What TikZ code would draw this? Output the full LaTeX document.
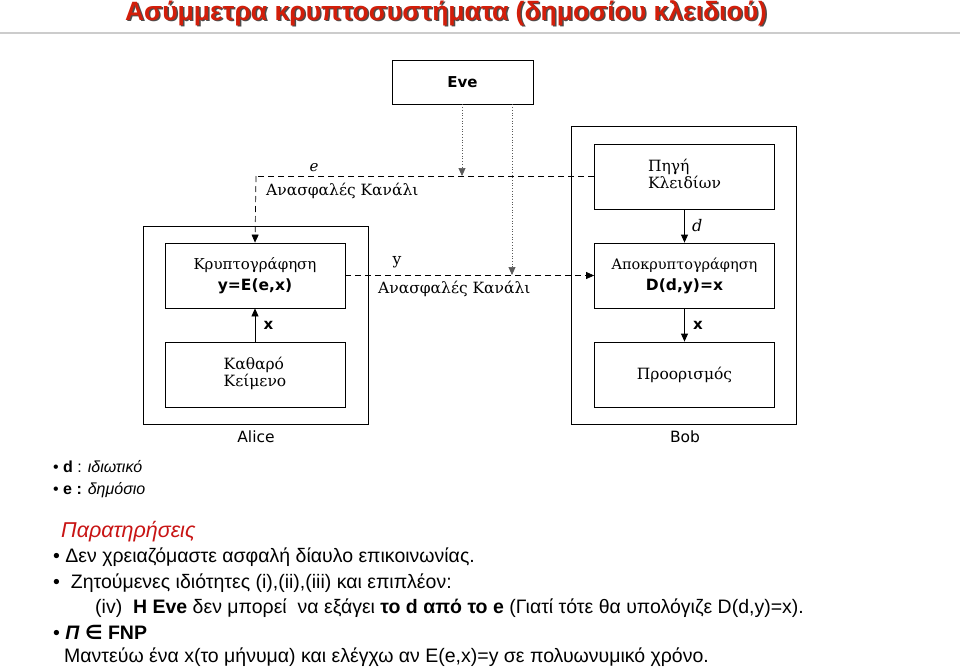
\documentclass[tikz,border=0pt]{standalone}
\usepackage{fontspec}
\setmainfont{Liberation Sans}
\newfontfamily\dser{DejaVu Serif}
\newfontfamily\dsans{DejaVu Sans}
\usetikzlibrary{arrows.meta}
\definecolor{titred}{RGB}{210,30,10}
\definecolor{obsred}{RGB}{200,20,20}
\begin{document}
\begin{tikzpicture}[x=1pt,y=-1pt,
  blk/.style={draw,line width=0.8pt,minimum width=180,minimum height=65,inner sep=0,align=center},
  outer/.style={draw,line width=0.8pt},
  dsh/.style={dashed,dash pattern=on 6pt off 4pt,line width=0.7pt},
  dot/.style={dotted,line width=0.7pt,gray!70!black},
  arr/.style={-{Triangle[length=8pt,width=7pt]}},
  lab/.style={font=\dser\fontsize{15.5}{16}\selectfont,inner sep=1pt},
  txt/.style={anchor=west,inner sep=0,font=\fontsize{19.5}{21}\selectfont}]
\useasboundingbox (0,0) rectangle (960,667);
% title
\node (tshadow) [font=\bfseries\fontsize{26.5}{28}\selectfont,text=black!70] at (447.5,14.5) {Ασύμμετρα κρυπτοσυστήματα  (δημοσίου κλειδιού)};
\node (title) [font=\bfseries\fontsize{26.5}{28}\selectfont,text=titred] at (446,13) {Ασύμμετρα κρυπτοσυστήματα  (δημοσίου κλειδιού)};
\draw[gray!40,line width=1.2pt] (0,33) -- (960,33);
% boxes
\node (eve) [blk,minimum width=141,minimum height=44,font=\dsans\bfseries\fontsize{15}{16}\selectfont] at (462.5,82) {Eve};
\node (alice) [outer,minimum width=225,minimum height=198,inner sep=0] at (255.5,325) {};
\node (bob) [outer,minimum width=225,minimum height=298,inner sep=0] at (683.5,275) {};
\node (enc) [blk] at (255,275.5) {\dser\fontsize{15}{16}\selectfont Κρυπτογράφηση\\[5pt]\dsans\bfseries\fontsize{15.5}{16}\selectfont y=E(e,x)};
\node (pt) [blk] at (255,374.5) {\dser\fontsize{15.5}{17}\selectfont\begin{tabular}{@{}l@{}}Καθαρό\\Κείμενο\end{tabular}};
\node (src) [blk] at (684.5,176.5) {\dser\fontsize{15.5}{17}\selectfont\begin{tabular}{@{}l@{}}Πηγή\\Κλειδίων\end{tabular}};
\node (dec) [blk] at (684.5,275.5) {\dser\fontsize{14.5}{16}\selectfont Αποκρυπτογράφηση\\[5pt]\dsans\bfseries\fontsize{15.5}{16}\selectfont D(d,y)=x};
\node (dst) [blk] at (684.5,374.5) {\dser\fontsize{15.5}{16}\selectfont Προορισμός};
\node (alab) [font=\dsans\fontsize{15.5}{16}\selectfont] at (256,437) {Alice};
\node (blab) [font=\dsans\fontsize{15.5}{16}\selectfont] at (685,437) {Bob};
% channels
\coordinate (ec) at (256,176);
\draw[dsh] (src.west |- ec) -- (ec);
\draw[dsh,arr] (ec) -- (enc.north);
\node[lab,font=\dser\itshape\fontsize{15}{16}\selectfont] at (314,168) {e};
\node[lab,anchor=west] at (265,191) {Ανασφαλές Κανάλι};
\draw[dsh,arr] (enc.east) -- (dec.west);
\node[lab] at (397,262) {y};
\node[lab,anchor=west] at (377,289) {Ανασφαλές Κανάλι};
% Eve taps
\coordinate (t1) at (462,176);
\coordinate (t2) at (512,275);
\draw[dot,arr] (eve.south -| t1) -- (t1);
\draw[dot,arr] (eve.south -| t2) -- (t2);
% internal arrows
\draw[line width=0.8pt,arr] (pt.north) -- node[right=5pt,font=\dsans\bfseries\fontsize{15}{16}\selectfont]{x} (enc.south);
\draw[line width=0.8pt,arr] (src.south) -- node[right=4pt,font=\dser\itshape\fontsize{16}{16}\selectfont]{d} (dec.north);
\draw[line width=0.8pt,arr] (dec.south) -- node[right=5pt,font=\dsans\bfseries\fontsize{15}{16}\selectfont]{x} (dst.north);
% text
\node[txt,font=\fontsize{16}{18}\selectfont] at (53,467) {• \textbf{d} : \textit{ιδιωτικό}};
\node[txt,font=\fontsize{16}{18}\selectfont] at (53,490) {• \textbf{e :} \textit{δημόσιο}};
\node[txt,font=\itshape\fontsize{21.5}{23}\selectfont,text=obsred] at (61,532) {Παρατηρήσεις};
\node[txt] at (53,557) {• Δεν χρειαζόμαστε ασφαλή δίαυλο επικοινωνίας.};
\node[txt] at (53,583) {•~ Ζητούμενες ιδιότητες (i),(ii),(iii) και επιπλέον:};
\node[txt] at (95,608) {(iv)~ \textbf{Η Eve} δεν μπορεί~ να εξάγει \textbf{το d από το e} (Γιατί τότε θα υπολόγιζε D(d,y)=x).};
\node[txt] at (53,632) {• \textbf{\textit{Π} {\dsans∈} FNP}};
\node[txt] at (64,657) {Μαντεύω ένα x(το μήνυμα) και ελέγχω αν E(e,x)=y σε πολυωνυμικό χρόνο.};
\end{tikzpicture}
\end{document}
